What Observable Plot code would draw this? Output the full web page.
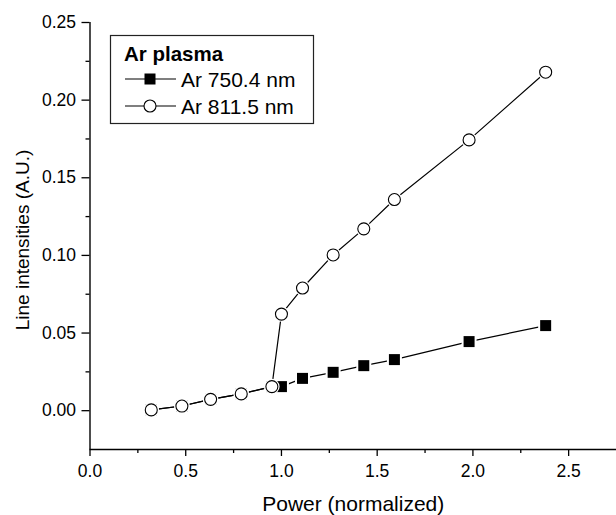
<!DOCTYPE html>
<html>
<head>
<meta charset="utf-8">
<script src="https://cdn.jsdelivr.net/npm/d3@7"></script>
<script src="https://cdn.jsdelivr.net/npm/@observablehq/plot@0.6"></script>
<style>
  html, body { margin: 0; padding: 0; background: #fff; }
  #wrap { position: relative; width: 616px; height: 515px; }
  #legend { position: absolute; left: 0; top: 0; }
  #wrap g[aria-label$="tick label"] { font-size: 17.5px !important; }
  #wrap g[aria-label$="tick label"] text { font-size: 17.5px !important; }
</style>
</head>
<body>
<div id="wrap"></div>
<script>
// Data
const power = [0.32, 0.48, 0.63, 0.79, 0.95, 1.0, 1.11, 1.27, 1.43, 1.59, 1.98, 2.38];
const ar750 = [0.0005, 0.003, 0.0073, 0.0108, 0.0155, 0.0155, 0.0208, 0.0247, 0.029, 0.0329, 0.0445, 0.0548];
const ar811 = [0.0005, 0.003, 0.0073, 0.0108, 0.0155, 0.0622, 0.079, 0.1003, 0.1171, 0.136, 0.1744, 0.218];
const seriesNames = ["Ar 750.4 nm", "Ar 811.5 nm"];
const legendTitle = "Ar plasma";
const xTicks = [0, 0.5, 1.0, 1.5, 2.0, 2.5];
const xMinor = [0.25, 0.75, 1.25, 1.75, 2.25];
const yTicks = [0, 0.05, 0.10, 0.15, 0.20, 0.25];
const yMinor = [0.025, 0.075, 0.125, 0.175, 0.225];
const xLabel = "Power (normalized)";
const yLabel = "Line intensities (A.U.)";

const d750 = power.map((p, i) => ({x: p, y: ar750[i]}));
const d811 = power.map((p, i) => ({x: p, y: ar811[i]}));

const font = "'Liberation Sans', Arial, Helvetica, sans-serif";

const chart = Plot.plot({
  width: 616,
  height: 515,
  marginLeft: 89.5,
  marginRight: 0,
  marginTop: 22,
  marginBottom: 66,
  style: {fontFamily: font, fontSize: "17.5px", color: "#000", background: "#fff"},
  x: {domain: [0, 2.75]},
  y: {domain: [-0.025, 0.25]},
  marks: [
    // axis lines
    Plot.ruleX([0], {stroke: "#000", strokeWidth: 1.4}),
    Plot.ruleY([-0.025], {stroke: "#000", strokeWidth: 1.4}),
    // major ticks & labels
    Plot.axisX({ticks: xTicks, tickSize: 7, tickPadding: 8, tickFormat: d3.format(".1f"), fontSize: 17.5, label: null, strokeWidth: 1.3}),
    Plot.axisX({ticks: xMinor, tickSize: 4, tickFormat: () => "", label: null, strokeWidth: 1.3}),
    Plot.axisY({ticks: yTicks, tickSize: 8, tickPadding: 6, tickFormat: d3.format(".2f"), fontSize: 17.5, label: null, strokeWidth: 1.3}),
    Plot.axisY({ticks: yMinor, tickSize: 4, tickFormat: () => "", label: null, strokeWidth: 1.3}),
    // axis titles
    Plot.text([xLabel], {frameAnchor: "bottom", lineAnchor: "bottom", dy: 61, fontSize: 21, text: d => d, fill: "#000"}),
    Plot.text([yLabel], {frameAnchor: "left", textAnchor: "middle", lineAnchor: "middle", dx: -67.5, dy: 4, rotate: -90, fontSize: 19, text: d => d, fill: "#000"}),
    // series lines
    Plot.line(d750, {x: "x", y: "y", stroke: "#000", strokeWidth: 1.2}),
    Plot.line(d811, {x: "x", y: "y", stroke: "#000", strokeWidth: 1.2}),
    // square markers with white gap
    Plot.dot(d750, {x: "x", y: "y", symbol: "square", r: 6.2, fill: "#000", stroke: "#fff", strokeWidth: 4, paintOrder: "stroke"}),
    // circle markers with white gap
    Plot.dot(d811, {x: "x", y: "y", r: 6, fill: "#fff", stroke: "#fff", strokeWidth: 3.5}),
    Plot.dot(d811, {x: "x", y: "y", r: 6, fill: "#fff", stroke: "#000", strokeWidth: 1.1})
  ]
});

const wrap = document.getElementById("wrap");
wrap.appendChild(chart);

// Legend box drawn on top of the plot area
const lg = d3.create("svg")
  .attr("id", "legend")
  .attr("width", 616).attr("height", 515)
  .style("font-family", font);
lg.append("rect").attr("x", 110.5).attr("y", 35.5).attr("width", 203).attr("height", 88)
  .attr("fill", "#fff").attr("stroke", "#222").attr("stroke-width", 1.2);
lg.append("text").attr("x", 124).attr("y", 61).attr("font-size", 20.5).attr("font-weight", "bold")
  .attr("fill", "#000").text(legendTitle);
const rows = [79, 106];
rows.forEach((cy, i) => {
  lg.append("line").attr("x1", 125).attr("x2", 176).attr("y1", cy).attr("y2", cy)
    .attr("stroke", "#000").attr("stroke-width", 1.2);
  if (i === 0) {
    lg.append("rect").attr("x", 150 - 5.5).attr("y", cy - 5.5).attr("width", 11).attr("height", 11)
      .attr("fill", "#000");
  } else {
    lg.append("circle").attr("cx", 150).attr("cy", cy).attr("r", 6)
      .attr("fill", "#fff").attr("stroke", "#000").attr("stroke-width", 1.1);
  }
  lg.append("text").attr("x", 181).attr("y", cy + 7.5).attr("font-size", 21)
    .attr("fill", "#000").text(seriesNames[i]);
});
wrap.appendChild(lg.node());
</script>
</body>
</html>
